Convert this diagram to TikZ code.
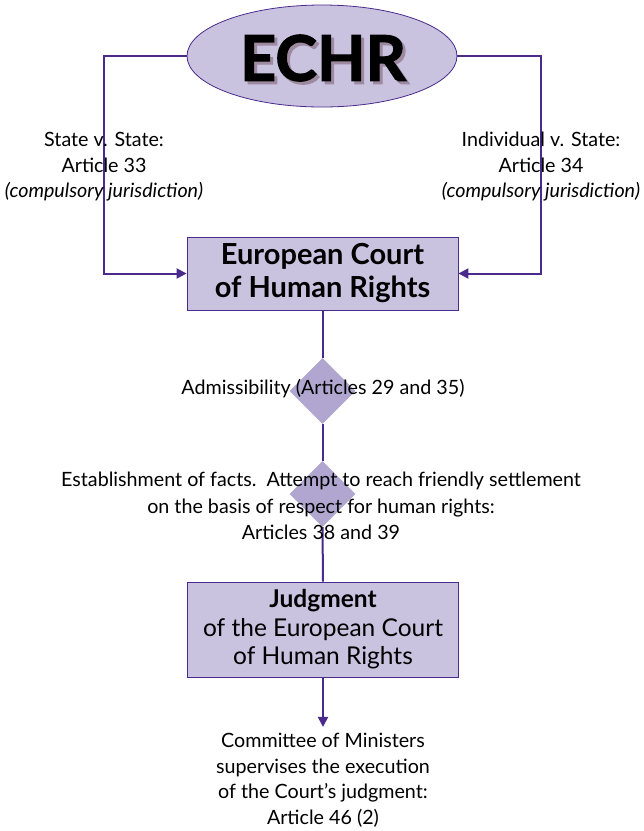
\documentclass[tikz,border=0pt]{standalone}
\usepackage{fontspec}
\setmainfont{Lato}
\newfontfamily\echrfont[FakeBold=1.8]{Lato}
\usetikzlibrary{shapes.geometric,arrows.meta}
\definecolor{echrline}{RGB}{74,42,140}
\definecolor{echrfill}{RGB}{201,195,224}
\definecolor{echrdiam}{RGB}{176,166,207}
\definecolor{echrshade}{RGB}{158,138,160}
\tikzset{
	courtbox/.style={draw=echrline,fill=echrfill,line width=0.8pt,minimum width=271pt,align=center},
	gate/.style={diamond,fill=echrdiam,inner sep=0pt,minimum width=66pt,minimum height=66pt},
	link/.style={draw=echrline,line width=2pt},
	tip/.style={-{Triangle[length=10pt,width=10pt]}},
	note/.style={align=center,inner sep=0pt,font=\fontsize{19.7}{25.5}\selectfont}
}
\begin{document}
\begin{tikzpicture}[x=1pt,y=-1pt]
	\useasboundingbox (0,0) rectangle (644,831);
	% top of the chart
	\node[ellipse,draw=echrline,fill=echrfill,line width=0.8pt,minimum width=270pt,minimum height=102pt] (echr) at (322,56) {};
	\node[text=echrshade,font=\fontsize{63}{63}\echrfont\bfseries] at (326,61) {ECHR};
	\node[font=\fontsize{63}{63}\echrfont\bfseries] (echrtxt) at (323,58) {ECHR};
	\node[courtbox,minimum height=73pt,font=\fontsize{29}{33}\bfseries] (court) at (322.5,273.5) {European Court\\of Human Rights};
	% the two ways in
	\draw[link,tip] (echr.west) -- ++(-83,0) |- (court.west);
	\draw[link,tip] (echr.east) -- ++(84,0) |- (court.east);
	\node[note] (left) at (104,167) {State v. State:\\Article 33\\\textit{(compulsory jurisdiction)}};
	\node[note] (right) at (541,167) {Individual v. State:\\Article 34\\\textit{(compulsory jurisdiction)}};
	% procedure
	\node[gate] (adm) at (322.5,391) {};
	\node[gate] (est) at (322.5,494) {};
	\node[courtbox,minimum height=95pt,font=\fontsize{24.5}{28.5}\selectfont] (judg) at (323,629.5) {\textbf{Judgment}\\of the European Court\\of Human Rights};
	\draw[link] (court.south) -- (adm.north);
	\draw[link] (adm.south) -- (est.north);
	\draw[link] (est.south) -- (judg.north);
	\node[note] (admtxt) at (323,389) {Admissibility (Articles 29 and 35)};
	\node[note,font=\fontsize{19.7}{26.5}\selectfont] (esttxt) at (321,506) {Establishment of facts.\ \ Attempt to reach friendly settlement\\on the basis of respect for human rights:\\Articles 38 and 39};
	\node[note] (cm) at (323,780) {Committee of Ministers\\supervises the execution\\of the Court's judgment:\\Article 46 (2)};
	\draw[link,tip] (judg.south) -- ([yshift=6pt]cm.north);
\end{tikzpicture}
\end{document}
